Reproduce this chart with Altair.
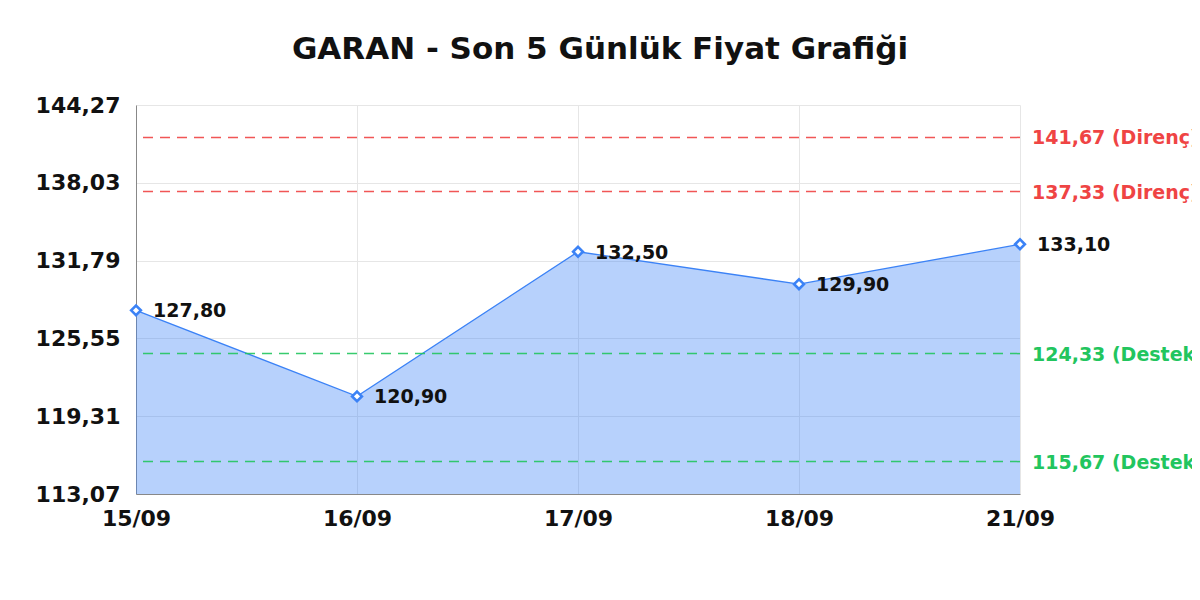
import altair as alt
import pandas as pd

dates = ["15/09", "16/09", "17/09", "18/09", "21/09"]
prices = [127.80, 120.90, 132.50, 129.90, 133.10]
resistance = [141.67, 137.33]
support = [124.33, 115.67]
y_ticks = [113.07, 119.31, 125.55, 131.79, 138.03, 144.27]
title_text = "GARAN - Son 5 Günlük Fiyat Grafiği"

def tr(v):
    return f"{v:.2f}".replace(".", ",")

df = pd.DataFrame({"date": dates, "price": prices,
                   "label": [tr(v) for v in prices]})
levels = pd.DataFrame({
    "level": resistance + support,
    "kind": ["Direnç"] * len(resistance) + ["Destek"] * len(support),
})
levels["label"] = [f"{tr(v)} ({k})" for v, k in zip(levels["level"], levels["kind"])]
levels["date"] = dates[-1]

FONT = "DejaVu Sans"
BLUE = "#3b82f6"
RED = "#ef4444"
GREEN = "#22c55e"

x_enc = alt.X("date:O", sort=dates, scale=alt.Scale(type="point", padding=0),
              axis=alt.Axis(title=None, labelAngle=0, ticks=False, grid=True,
                            gridColor="#e6e6e6", domainColor="#888888",
                            labelFont=FONT, labelFontWeight="bold",
                            labelFontSize=22, labelColor="#111111",
                            labelPadding=14))
y_scale = alt.Scale(domain=[y_ticks[0], y_ticks[-1]], zero=False, nice=False)
y_enc = alt.Y("price:Q", scale=y_scale,
              axis=alt.Axis(title=None, values=y_ticks, ticks=False, grid=True,
                            gridColor="#e6e6e6", domainColor="#888888",
                            labelExpr="replace(format(datum.value, '.2f'), '.', ',')",
                            labelFont=FONT, labelFontWeight="bold",
                            labelFontSize=22, labelColor="#111111",
                            labelPadding=16))

base = alt.Chart(df)

area = base.mark_area(color=BLUE, opacity=0.37).encode(
    x=x_enc, y=y_enc, y2=alt.datum(y_ticks[0]))
line = base.mark_line(color=BLUE, strokeWidth=1.3).encode(x=x_enc, y=y_enc)
points = base.mark_point(shape="diamond", filled=True, fill="white",
                         stroke=BLUE, strokeWidth=2.6, size=95, opacity=1).encode(
    x=x_enc, y=y_enc)
labels = base.mark_text(align="left", baseline="middle", dx=17, dy=1,
                        font=FONT, fontWeight="bold", fontSize=19,
                        color="#111111").encode(
    x=x_enc, y=y_enc, text="label:N")

lv = alt.Chart(levels)
color_scale = alt.Scale(domain=["Direnç", "Destek"], range=[RED, GREEN])
rules = lv.mark_rule(strokeDash=[10, 7], strokeWidth=1.5, opacity=0.9).encode(
    y=alt.Y("level:Q", scale=y_scale),
    color=alt.Color("kind:N", scale=color_scale, legend=None))
level_text = lv.mark_text(align="left", baseline="middle", dx=12, dy=1,
                          font=FONT, fontWeight="bold", fontSize=19).encode(
    x=alt.X("date:O", sort=dates),
    y=alt.Y("level:Q", scale=y_scale),
    text="label:N",
    color=alt.Color("kind:N", scale=color_scale, legend=None))

chart = alt.layer(area, line, rules, points, labels, level_text).properties(
    width=884, height=389,
    autosize=alt.AutoSizeParams(type="none"),
    padding={"left": 128, "top": 97, "right": 172, "bottom": 90},
    title=alt.TitleParams(title_text, anchor="middle", dx=22, offset=28,
                          font=FONT, fontWeight="bold", fontSize=31,
                          color="#111111"),
).configure_view(stroke="transparent")

chart.save("out.html", embed_options={"renderer": "svg", "actions": False})
